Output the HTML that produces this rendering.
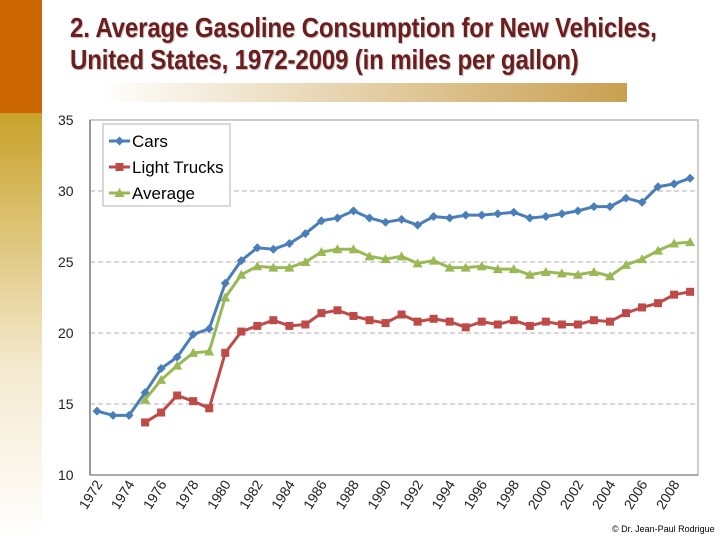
<!DOCTYPE html>
<html><head><meta charset="utf-8"><style>
body{margin:0;width:720px;height:540px;overflow:hidden;background:#fff;font-family:"Liberation Sans",sans-serif;position:relative}
.t{position:absolute;left:70px;font-weight:bold;color:#6e1c1c;font-size:28px;white-space:nowrap;transform-origin:0 0;transform:scaleX(0.86);letter-spacing:-0.2px;text-shadow:1px 1px 1px #bbb}
</style></head><body>
<div style="position:absolute;left:0;top:0;width:42px;height:113px;background:#cc6600"></div>
<div style="position:absolute;left:0;top:113px;width:42px;height:427px;background:linear-gradient(#c9a22a,#f4ead0 60%,#fff)"></div>
<div style="position:absolute;left:100px;top:83px;width:527px;height:19px;background:linear-gradient(90deg,#fff,#c9a050)"></div>
<div class="t" style="top:12px">2. Average Gasoline Consumption for New Vehicles,</div>
<div class="t" style="top:44px">United States, 1972-2009 (in miles per gallon)</div>
<svg id="c" width="720" height="540" style="position:absolute;left:0;top:0"></svg>
<div style="position:absolute;left:612px;top:524px;font-size:9px;white-space:nowrap">© Dr. Jean-Paul Rodrigue</div>
<script>
const years=[];for(let y=1972;y<=2009;y++)years.push(y);
const cars=[14.5,14.2,14.2,15.8,17.5,18.3,19.9,20.3,23.5,25.1,26.0,25.9,26.3,27.0,27.9,28.1,28.6,28.1,27.8,28.0,27.6,28.2,28.1,28.3,28.3,28.4,28.5,28.1,28.2,28.4,28.6,28.9,28.9,29.5,29.2,30.3,30.5,30.9];
const truckStart=1975;
const trucks=[13.7,14.4,15.6,15.2,14.7,18.6,20.1,20.5,20.9,20.5,20.6,21.4,21.6,21.2,20.9,20.7,21.3,20.8,21.0,20.8,20.4,20.8,20.6,20.9,20.5,20.8,20.6,20.6,20.9,20.8,21.4,21.8,22.1,22.7,22.9];
const avg=[15.3,16.7,17.7,18.6,18.7,22.5,24.1,24.7,24.6,24.6,25.0,25.7,25.9,25.9,25.4,25.2,25.4,24.9,25.1,24.6,24.6,24.7,24.5,24.5,24.1,24.3,24.2,24.1,24.3,24.0,24.8,25.2,25.8,26.3,26.4];
const yTicks=[10,15,20,25,30,35];
const NS='http://www.w3.org/2000/svg',svg=document.getElementById('c');
const X=y=>97+(y-1972)*16.03,Y=v=>475-(v-10)*14.2;
function el(t,a,p){const e=document.createElementNS(NS,t);for(const k in a)e.setAttribute(k,a[k]);(p||svg).appendChild(e);return e;}
const pa=el('rect',{x:90,y:120,width:608,height:355,fill:'none',stroke:'#bbb','stroke-width':1.5});


yTicks.forEach(v=>{
 if(v>10&&v<35){const g=el('line',{x1:90,x2:698,y1:Y(v),y2:Y(v),stroke:'#ccc','stroke-dasharray':'5,3','stroke-width':1.5});
 
 }
 const t=el('text',{x:58,y:Y(v)+5,'font-size':14,fill:'#222','font-family':'Liberation Sans'});t.textContent=v;
 
 
});
const ax=el('line',{x1:90,x2:90,y1:120,y2:475,stroke:'#999','stroke-width':2});


const bx=el('line',{x1:90,x2:698,y1:475,y2:475,stroke:'#999','stroke-width':1.5});


years.forEach(y=>{if(y%2==0){const t=el('text',{x:0,y:0,'font-size':14,fill:'#222','text-anchor':'end',transform:`translate(${X(y)+6},${484}) rotate(-58)`});t.textContent=y;
 
 }});
function series(name,data,start,color,mk){
 const g=el('g',{});
 
 
 const pts=data.map((v,i)=>[X(start+i),Y(v)]);
 el('polyline',{points:pts.map(p=>p.join(',')).join(' '),fill:'none',stroke:color,'stroke-width':3},g);
 pts.forEach(p=>marker(g,p[0],p[1],color,mk));
}
function marker(g,x,y,c,mk){let m;
 if(mk=='d')m=el('polygon',{points:`${x},${y-4.5} ${x+4.5},${y} ${x},${y+4.5} ${x-4.5},${y}`,fill:c},g);
 else if(mk=='s')m=el('rect',{x:x-4,y:y-4,width:8,height:8,fill:c},g);
 else m=el('polygon',{points:`${x},${y-5} ${x+5},${y+4} ${x-5},${y+4}`,fill:c},g);
 
 }
series('cars',cars,1972,'#4a7ebb','d');
series('light-trucks',trucks,truckStart,'#be4b48','s');
series('average',avg,truckStart,'#98b954','t');
const lg=el('g',{});


el('rect',{x:103,y:124,width:127,height:82,fill:'#fff',stroke:'#ccc','stroke-width':1.5},lg);
[['Cars','#4a7ebb','d'],['Light Trucks','#be4b48','s'],['Average','#98b954','t']].forEach((s,i)=>{
 const yy=141+i*26;
 el('line',{x1:109,x2:130,y1:yy,y2:yy,stroke:s[1],'stroke-width':3},lg);
 marker(lg,119.5,yy,s[1],s[2]);
 const t=el('text',{x:132,y:yy+6,'font-size':17,fill:'#000'},lg);t.textContent=s[0];
 
 
});
</script>
</body></html>
